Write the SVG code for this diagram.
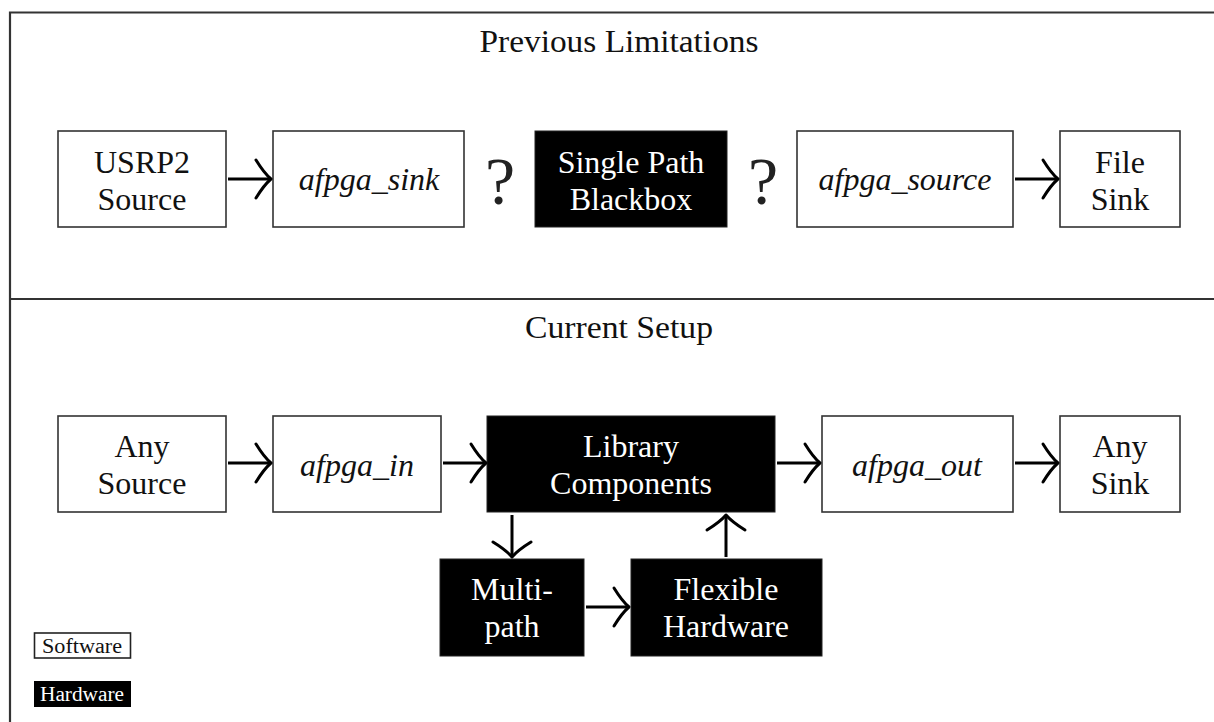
<svg xmlns="http://www.w3.org/2000/svg" width="1214" height="722" viewBox="0 0 1214 722">
  <style>
    .lbl { font-family: "Liberation Serif", "Times New Roman", serif; font-size: 32px; text-anchor: middle; fill: #111; }
    .it { font-style: italic; }
    .inv { fill: #fff; }
    .title { font-family: "Liberation Serif", "Times New Roman", serif; font-size: 32px; text-anchor: middle; fill: #111; }
    .q { font-family: "Liberation Serif", "Times New Roman", serif; font-size: 68px; text-anchor: middle; fill: #222; }
    .legend { font-family: "Liberation Serif", "Times New Roman", serif; font-size: 20px; text-anchor: middle; }
    .sw { fill: #fff; stroke: #333; stroke-width: 1.6; }
    .hw { fill: #000; stroke: #222; stroke-width: 1; }
    .frame { stroke: #333; stroke-width: 2.2; fill: none; }
    .conn { stroke: #000; stroke-width: 3; fill: none; marker-end: url(#head); }
  </style>
  <defs>
    <marker id="head" markerUnits="userSpaceOnUse" viewBox="-20 -24 24 48" refX="0" refY="0" markerWidth="24" markerHeight="48" orient="auto" overflow="visible">
      <path d="M-15,-19 Q-7,-6 0,0 Q-7,6 -15,19" fill="none" stroke="#000" stroke-width="3" stroke-linecap="round" stroke-linejoin="round"/>
    </marker>
  </defs>

  <rect width="1214" height="722" fill="#fff"/>

  <!-- frame and section divider -->
  <g id="frame">
    <path class="frame" d="M10,722 V12.5 H1214"/>
    <path class="frame" d="M10,299 H1214"/>
  </g>

  <text class="title" x="619" y="52" textLength="279" lengthAdjust="spacingAndGlyphs">Previous Limitations</text>
  <text class="title" x="619" y="338" textLength="188" lengthAdjust="spacingAndGlyphs">Current Setup</text>

  <!-- upper chain -->
  <g id="usrp2-source">
    <rect class="sw" x="58" y="131" width="168" height="96"/>
    <text class="lbl" x="142" y="173">USRP2</text>
    <text class="lbl" x="142" y="210">Source</text>
  </g>
  <g id="afpga-sink">
    <rect class="sw" x="273" y="131" width="191" height="96"/>
    <text class="lbl it" x="369" y="190">afpga_sink</text>
  </g>
  <g id="single-path-blackbox">
    <rect class="hw" x="535" y="131" width="192" height="96"/>
    <text class="lbl inv" x="631" y="173">Single Path</text>
    <text class="lbl inv" x="631" y="210">Blackbox</text>
  </g>
  <g id="afpga-source">
    <rect class="sw" x="797" y="131" width="216" height="96"/>
    <text class="lbl it" x="905" y="190">afpga_source</text>
  </g>
  <g id="file-sink">
    <rect class="sw" x="1060" y="131" width="120" height="96"/>
    <text class="lbl" x="1120" y="173">File</text>
    <text class="lbl" x="1120" y="210">Sink</text>
  </g>
  <text class="q" x="500" y="204">?</text>
  <text class="q" x="763" y="204">?</text>

  <!-- lower chain -->
  <g id="any-source">
    <rect class="sw" x="58" y="416" width="168" height="96"/>
    <text class="lbl" x="142" y="457">Any</text>
    <text class="lbl" x="142" y="494">Source</text>
  </g>
  <g id="afpga-in">
    <rect class="sw" x="273" y="416" width="168" height="96"/>
    <text class="lbl it" x="357" y="476">afpga_in</text>
  </g>
  <g id="library-components">
    <rect class="hw" x="487" y="416" width="288" height="96"/>
    <text class="lbl inv" x="631" y="457">Library</text>
    <text class="lbl inv" x="631" y="494">Components</text>
  </g>
  <g id="afpga-out">
    <rect class="sw" x="822" y="416" width="191" height="96"/>
    <text class="lbl it" x="917" y="476">afpga_out</text>
  </g>
  <g id="any-sink">
    <rect class="sw" x="1060" y="416" width="120" height="96"/>
    <text class="lbl" x="1120" y="457">Any</text>
    <text class="lbl" x="1120" y="494">Sink</text>
  </g>
  <g id="multi-path">
    <rect class="hw" x="440" y="559" width="144" height="97"/>
    <text class="lbl inv" x="512" y="600">Multi-</text>
    <text class="lbl inv" x="512" y="637">path</text>
  </g>
  <g id="flexible-hardware">
    <rect class="hw" x="631" y="559" width="191" height="97"/>
    <text class="lbl inv" x="726" y="600">Flexible</text>
    <text class="lbl inv" x="726" y="637">Hardware</text>
  </g>

  <!-- legend -->
  <g id="legend-software">
    <rect x="34.5" y="633" width="96" height="25" fill="#fff" stroke="#222" stroke-width="1.6"/>
    <text class="legend" x="82" y="653" fill="#111" textLength="80" lengthAdjust="spacingAndGlyphs">Software</text>
  </g>
  <g id="legend-hardware">
    <rect x="34" y="681" width="97" height="26" fill="#000"/>
    <text class="legend" x="82" y="701" fill="#fff" textLength="84" lengthAdjust="spacingAndGlyphs">Hardware</text>
  </g>

  <!-- connectors -->
  <g id="connectors">
    <path class="conn" d="M228,179 H271"/>
    <path class="conn" d="M1015,179 H1058"/>
    <path class="conn" d="M228,463 H271"/>
    <path class="conn" d="M443,463 H486"/>
    <path class="conn" d="M777,463 H820"/>
    <path class="conn" d="M1015,463 H1058"/>
    <path class="conn" d="M512,515 V557"/>
    <path class="conn" d="M586,607 H629"/>
    <path class="conn" d="M726,557 V515"/>
  </g>
</svg>
